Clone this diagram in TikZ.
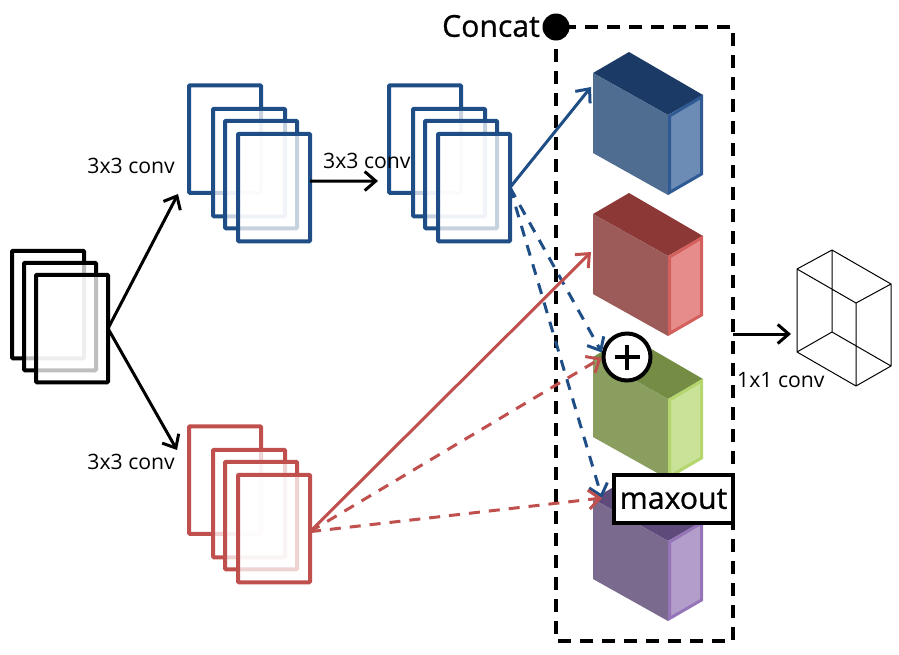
\documentclass[tikz,border=0pt]{standalone}
\usepackage{fontspec}
\setmainfont{Open Sans}
\newfontfamily\heavyfont[FakeBold=0.8]{Open Sans}
\usetikzlibrary{arrows.meta}
\definecolor{bluelin}{HTML}{1F4E86}
\definecolor{redlin}{HTML}{C0504D}
\definecolor{blueF}{HTML}{4F6D91}
\definecolor{blueT}{HTML}{1B3A65}
\definecolor{blueS}{HTML}{6C8CB5}
\definecolor{blueB}{HTML}{2F5A94}
\definecolor{redF}{HTML}{9C5B59}
\definecolor{redT}{HTML}{8C3836}
\definecolor{redS}{HTML}{E68D8B}
\definecolor{redB}{HTML}{D4605E}
\definecolor{greenF}{HTML}{8A9E60}
\definecolor{greenT}{HTML}{748C44}
\definecolor{greenS}{HTML}{C9E298}
\definecolor{greenB}{HTML}{B5D56F}
\definecolor{purpleF}{HTML}{7A6A8E}
\definecolor{purpleT}{HTML}{5F4A7C}
\definecolor{purpleS}{HTML}{B29DCB}
\definecolor{purpleB}{HTML}{9575B8}
\tikzset{
    sheet/.style={draw=#1,line width=4pt,fill=white,fill opacity=0.75,rounded corners=1pt,
        minimum width=72pt,minimum height=107.5pt,inner sep=0pt,outer sep=0pt},
    link/.style={line width=3pt,-{Straight Barb[length=11pt,width=19pt,line width=3pt]}},
    dlink/.style={link,dash pattern=on 11pt off 9pt},
    lbl/.style={font=\fontsize{21.2}{25}\selectfont,inner sep=0pt},
    biglbl/.style={font=\heavyfont\fontsize{30.2}{36}\selectfont,inner sep=0pt}
}
\begin{document}
\begin{tikzpicture}[x=1pt,y=-1pt]
    \useasboundingbox (0,0) rectangle (899,654);
    % concat box
    \draw[line width=3.3pt,dash pattern=on 13pt off 9pt] (556,27) rectangle (733,641);
    \node[circle,fill=black,minimum size=27pt,inner sep=0pt] (concat) at (556,27) {};
    \node[biglbl,anchor=east] (concatlbl) at (540,26) {Concat};
    % input and conv stacks
    \foreach \i/\x/\y in {1/48/304.5,2/60/316.5,3/72/328.5}{
        \node[sheet=black] (in\i) at (\x,\y) {};
    }
    \foreach \i/\x/\y in {1/225/139,2/249/162.5,3/261/174.5,4/274/187.5}{
        \node[sheet=bluelin] (bluea\i) at (\x,\y) {};
    }
    \foreach \i/\x/\y in {1/425/139,2/449/162.5,3/461/174.5,4/474/187.5}{
        \node[sheet=bluelin] (blueb\i) at (\x,\y) {};
    }
    \foreach \i/\x/\y in {1/225/480,2/249/503.5,3/261/515.5,4/274/528.5}{
        \node[sheet=redlin] (reda\i) at (\x,\y) {};
    }
    % feature blocks
    \foreach \c/\dy in {blue/0,red/141,green/284,purple/426}{
        \begin{scope}[shift={(0,\dy)}]
            \fill[\c T] (593,73)--(629,52)--(703,95)--(668,115)--cycle;
            \fill[\c F] (593,73)--(668,115)--(668,195)--(593,153)--cycle;
            \draw[\c B,fill=\c S,line width=3pt,line join=miter] (669.5,116)--(701.5,97)--(701.5,174)--(669.5,192.5)--cycle;
        \end{scope}
    }
    % output block
    \draw[line width=1pt,line join=round] (797,269)--(832,250)--(891,284)--(856,303)--cycle
        (797,269)--(797,352)--(856,386)--(891,366)--(891,284)
        (856,303)--(856,386)
        (832,250)--(832,332)
        (797,352)--(832,332)--(891,366);
    % operators
    \node[circle,draw=black,line width=4pt,fill=white,minimum size=47pt,inner sep=0pt] (plusop) at (627,357) {};
    \draw[line width=4.4pt] ([xshift=-12.5pt]plusop.center)--([xshift=12.5pt]plusop.center)
        ([yshift=-12.5pt]plusop.center)--([yshift=12.5pt]plusop.center);
    \node[draw=black,line width=4pt,fill=white,minimum width=119pt,minimum height=48pt,inner sep=0pt,
        font=\heavyfont\fontsize{30.2}{36}\selectfont] (maxbox) at (673.5,499) {maxout};
    % free ends
    \coordinate (bluetop) at (591,87);
    \coordinate (redtop) at (591,252);
    \coordinate (maxin) at (602,498);
    \coordinate (upend) at (178,194);
    \coordinate (downend) at (177,450);
    \coordinate (midend) at (378,181);
    \coordinate (outstart) at (733,334);
    \coordinate (outend) at (791,334);
    % connectors
    \draw[link] (in3.east)--(upend);
    \draw[link] (in3.east)--(downend);
    \draw[link] (bluea4.10)--(midend);
    \draw[link,draw=bluelin] (blueb4.east)--(bluetop);
    \draw[dlink,draw=bluelin] (blueb4.east)--(plusop.170);
    \draw[dlink,draw=bluelin] (blueb4.east)--(maxin);
    \draw[link,draw=redlin] (reda4.-5)--(redtop);
    \draw[dlink,draw=redlin] (reda4.-5)--(plusop.182);
    \draw[dlink,draw=redlin] (reda4.-5)--(maxin);
    \draw[link] (outstart)--(outend);
    % labels
    \node[lbl,anchor=east] (lblup) at (175,166) {3x3 conv};
    \node[lbl,anchor=east] (lbldown) at (175,462) {3x3 conv};
    \node[lbl,anchor=west] (lblmid) at (323,161) {3x3 conv};
    \node[lbl,anchor=west] (lblout) at (737,380) {1x1 conv};
\end{tikzpicture}
\end{document}
